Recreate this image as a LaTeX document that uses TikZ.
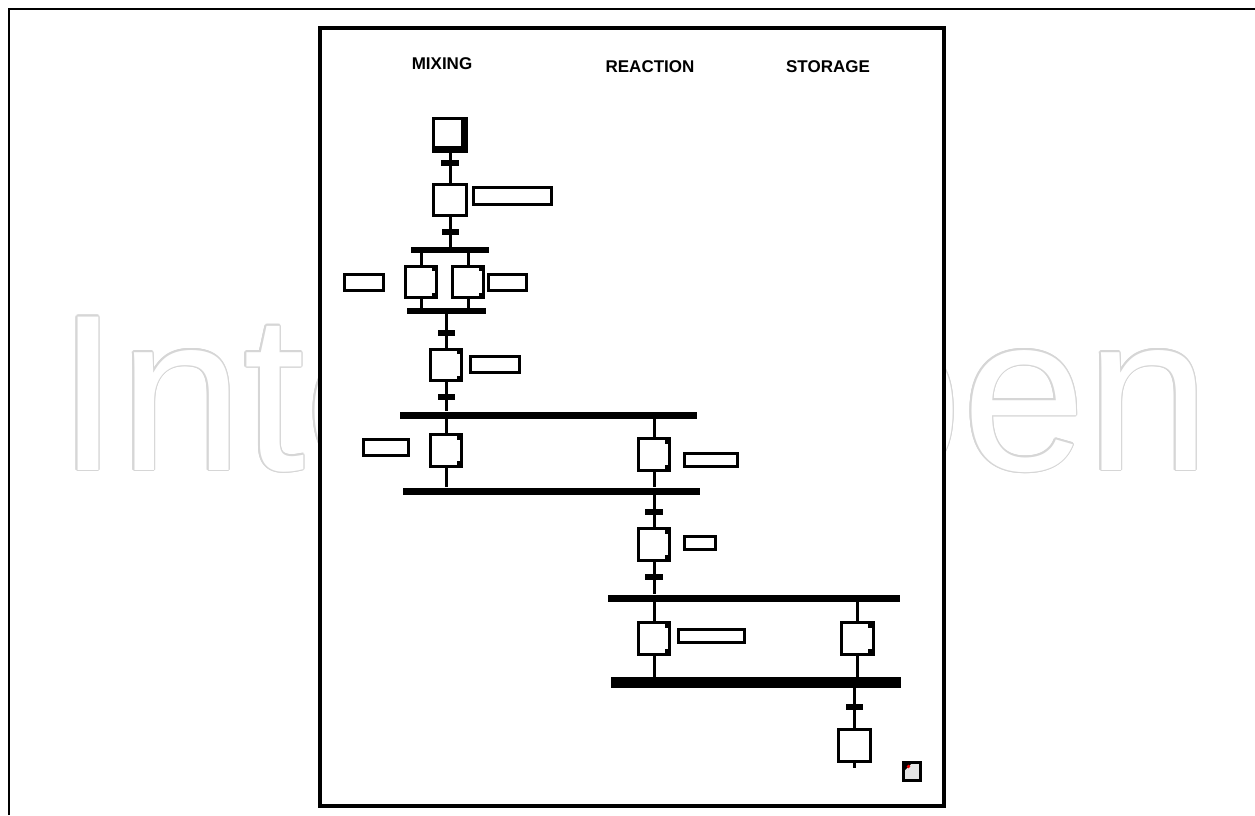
\documentclass[tikz,border=0pt]{standalone}
\usepackage{fontspec}
\setmainfont{Liberation Sans}
\tikzset{
  stepbox/.style={draw, rectangle, line width=3.2pt, inner sep=0pt,
    minimum width=31.5pt, minimum height=31.5pt, fill=white},
  markedbox/.style={stepbox, path picture={
    \fill[black] ([shift={(-5pt,-5pt)}]path picture bounding box.north east)
      rectangle (path picture bounding box.north east);
    \fill[black] ([shift={(-5pt,5pt)}]path picture bounding box.south east)
      rectangle (path picture bounding box.south east);}},
  initbox/.style={stepbox, minimum width=32.5pt, minimum height=32.5pt, path picture={
    \fill[black] ([shift={(-5.5pt,0pt)}]path picture bounding box.north east)
      rectangle (path picture bounding box.south east);
    \fill[black] ([shift={(0pt,5.5pt)}]path picture bounding box.south west)
      rectangle (path picture bounding box.south east);}},
  actbox/.style={draw, rectangle, line width=3pt, inner sep=0pt, fill=white},
  trans/.style={fill, rectangle, inner sep=0pt, minimum width=17pt, minimum height=6pt},
  syncbar/.style={fill, rectangle, inner sep=0pt},
  link/.style={line width=3pt},
  heading/.style={font=\bfseries\fontsize{17}{17}\selectfont, inner sep=0pt},
  watermark/.style={anchor=base west, inner sep=0pt, font=\fontsize{223}{223}\selectfont},
}
\begin{document}
\begin{tikzpicture}[x=1pt, y=-1pt]
\useasboundingbox (0,0) rectangle (1255,815);
\fill[white] (0,0) rectangle (1255,815);

% faint outlined lettering behind the chart
\foreach \a in {0,30,...,330}
  \node[watermark, text=gray!32, shift={(\a:1.4pt)}] (wm\a) at (57,470) {IntechOpen};
\node[watermark, text=white] (wm) at (57,470) {IntechOpen};

% page rules
\draw[line width=2.5pt] (9,815) -- (9,9) -- (1255,9);

% chart frame
\draw[line width=4pt, fill=white] (320,28) rectangle (944,806);

% column headings
\node[heading] (hmix) at (442,64) {MIXING};
\node[heading] (hreact) at (650,67) {REACTION};
\node[heading] (hstore) at (828,67) {STORAGE};

% mixing sequence
\node[initbox] (s0) at (450,135) {};
\node[trans, minimum width=18pt] (t1) at (450,163) {};
\node[stepbox, minimum width=32.5pt] (s1) at (450,200) {};
\node[actbox, minimum width=78pt, minimum height=17pt] (a1) at (512.5,196) {};
\node[trans] (t2) at (450,232) {};
\node[syncbar, minimum width=78pt, minimum height=6pt] (p1) at (450,250) {};
\node[markedbox] (s2a) at (421,282) {};
\node[markedbox] (s2b) at (468,282) {};
\node[actbox, minimum width=39pt, minimum height=16pt] (a2a) at (364,282.5) {};
\node[actbox, minimum width=38pt, minimum height=16pt] (a2b) at (507.5,282.5) {};
\node[syncbar, minimum width=79pt, minimum height=6pt] (p2) at (446.5,311) {};
\node[trans] (t3) at (446,333) {};
\node[markedbox] (s3) at (446,365) {};
\node[actbox, minimum width=49pt, minimum height=16pt] (a3) at (495,364.5) {};
\node[trans] (t4) at (446,397) {};

% mixing / reaction overlap
\node[syncbar, minimum width=297pt, minimum height=7pt] (b1) at (548.5,415) {};
\node[markedbox] (s4a) at (446,450.5) {};
\node[actbox, minimum width=45pt, minimum height=16pt] (a4a) at (386,447.5) {};
\node[markedbox] (s4b) at (654,454.5) {};
\node[actbox, minimum width=53pt, minimum height=13pt] (a4b) at (711,460) {};
\node[syncbar, minimum width=297pt, minimum height=7pt] (b2) at (551.5,491) {};

% reaction sequence
\node[trans, minimum width=18pt] (t5) at (654,512) {};
\node[markedbox] (s5) at (654,544.5) {};
\node[actbox, minimum width=31pt, minimum height=13pt] (a5) at (700,543) {};
\node[trans, minimum width=18pt] (t6) at (654,577) {};

% reaction / storage overlap
\node[syncbar, minimum width=292pt, minimum height=7pt] (b3) at (754,598) {};
\node[markedbox] (s6a) at (654,638.5) {};
\node[actbox, minimum width=66pt, minimum height=13pt] (a6a) at (711.5,636) {};
\node[markedbox] (s6b) at (857.5,638.5) {};
\node[syncbar, minimum width=290pt, minimum height=11pt] (b4) at (756,682.5) {};

% storage
\node[trans] (t7) at (854,707) {};
\node[stepbox, minimum width=32.5pt] (s7) at (854.5,745.5) {};
\coordinate (s7end) at ([yshift=-5pt]s7.south);

% corner badge
\node[draw, line width=3pt, fill=gray!20, inner sep=0pt,
      minimum width=17pt, minimum height=18pt] (badge) at (911.5,771) {};
\fill ([shift={(1.5pt,-1.5pt)}]badge.north west) -- ++(10pt,0pt) -- ++(-10pt,-10pt) -- cycle;
\fill[red] ([shift={(7pt,-6pt)}]badge.north west) circle (1.8pt);

% links
\draw[link] (s0.south) -- (s1.north);
\draw[link] (s1.south) -- (s1.south |- p1.north);
\draw[link] (p1.south -| s2a) -- (s2a.north);
\draw[link] (p1.south -| s2b) -- (s2b.north);
\draw[link] (s2a.south) -- (s2a.south |- p2.north);
\draw[link] (s2b.south) -- (s2b.south |- p2.north);
\draw[link] (p2.south -| s3) -- (s3.north);
\draw[link] (s3.south) -- (s3.south |- b1.north);
\draw[link] (b1.south -| s4a) -- (s4a.north);
\draw[link] (b1.south -| s4b) -- (s4b.north);
\draw[link] (s4a.south) -- (s4a.south |- b2.north);
\draw[link] (s4b.south) -- (s4b.south |- b2.north);
\draw[link] (b2.south -| s5) -- (s5.north);
\draw[link] (s5.south) -- (s5.south |- b3.north);
\draw[link] (b3.south -| s6a) -- (s6a.north);
\draw[link] (b3.south -| s6b) -- (s6b.north);
\draw[link] (s6a.south) -- (s6a.south |- b4.north);
\draw[link] (s6b.south) -- (s6b.south |- b4.north);
\draw[link] (b4.south -| t7) -- (t7.north);
\draw[link] (t7.south) -- (t7.south |- s7.north);
\draw[link] (s7.south -| t7) -- (s7end -| t7);
\end{tikzpicture}
\end{document}
